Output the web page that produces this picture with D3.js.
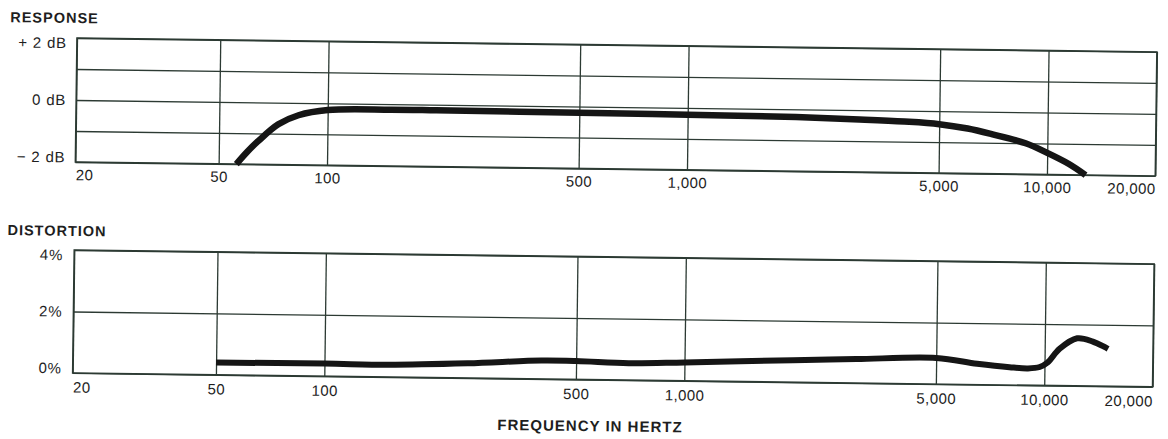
<!DOCTYPE html>
<html>
<head>
<meta charset="utf-8">
<script src="https://cdn.jsdelivr.net/npm/d3@7"></script>
<style>
  html, body { margin: 0; padding: 0; background: #ffffff; }
  svg { display: block; }
  text { font-family: "Liberation Sans", Arial, Helvetica, sans-serif; fill: #1e1e1e; }
</style>
</head>
<body>
<svg id="chart" width="1168" height="439"></svg>
<script>
// ---- data ----
const freqTicks = [20, 50, 100, 500, 1000, 5000, 10000, 20000];
const freqTickLabels = ["20", "50", "100", "500", "1,000", "5,000", "10,000", "20,000"];

const responseGrid = [2, 1, 0, -1, -2];
const responseTickLabels = {"2": "+ 2 dB", "0": "0 dB", "-2": "\u2212 2 dB"};

const distortionGrid = [4, 2, 0];
const distortionTickLabels = {"4": "4%", "2": "2%", "0": "0%"};

const responseFreq = [56, 60, 64, 73, 83, 100, 150, 200, 500, 1000, 2000, 3000, 4000, 5000, 6000, 7000, 8700, 10000, 11500, 12800];
const responseDb   = [-2.0, -1.6, -1.27, -0.7, -0.4, -0.22, -0.18, -0.18, -0.2, -0.22, -0.25, -0.3, -0.35, -0.42, -0.55, -0.72, -1.0, -1.3, -1.65, -2.0];

const distortionFreq = [50, 100, 150, 250, 400, 500, 700, 1000, 2000, 3000, 5000, 6500, 8000, 9000, 9700, 10200, 11000, 12300, 13600, 15000];
const distortionPct  = [0.40, 0.41, 0.40, 0.48, 0.60, 0.60, 0.55, 0.60, 0.72, 0.78, 0.85, 0.68, 0.58, 0.55, 0.60, 0.75, 1.2, 1.55, 1.45, 1.22];

// ---- layout ----
const svg = d3.select("#chart");
const root = svg.append("g").attr("transform", "rotate(0.74, 77, 38)");

const left = 77, width = 1080;
const gridColor = "#2c3a33";
const curveColor = "#151515";

const x = d3.scaleLog().domain([20, 20000]).range([left, left + width]);

function panel(top, height, yDomain, gridVals, labels, labelGap, titleText, titleY, xLabelPad) {
  const y = d3.scaleLinear().domain(yDomain).range([top + height, top]);
  const g = root.append("g");

  // vertical grid + frequency labels
  const xAxis = d3.axisBottom(x)
    .tickValues(freqTicks)
    .tickSize(-height)
    .tickPadding(xLabelPad)
    .tickFormat((d, i) => freqTickLabels[i]);
  const gx = g.append("g").attr("transform", `translate(0,${top + height})`).call(xAxis);
  gx.select(".domain").remove();
  gx.selectAll(".tick line").attr("stroke", gridColor).attr("stroke-width", 1.3);
  gx.selectAll(".tick text")
    .attr("font-size", 15)
    .attr("letter-spacing", 0.4)
    .attr("fill", "#1e1e1e")
    .attr("text-anchor", (d, i) => i === 0 ? "start" : (i === freqTicks.length - 1 ? "end" : "middle"));

  // horizontal grid + value labels
  const yAxis = d3.axisLeft(y)
    .tickValues(gridVals)
    .tickSize(-width)
    .tickPadding(labelGap)
    .tickFormat(d => labels[String(d)] || "");
  const gy = g.append("g").attr("transform", `translate(${left},0)`).call(yAxis);
  gy.select(".domain").remove();
  gy.selectAll(".tick line").attr("stroke", gridColor).attr("stroke-width", 1.3);
  gy.selectAll(".tick text")
    .attr("font-size", 15)
    .attr("letter-spacing", 0.8)
    .attr("fill", "#1e1e1e")
    .attr("dy", d => d === yDomain[1] ? "0.65em" : (d === yDomain[0] ? "0.0em" : "0.32em"));

  // outer frame
  g.append("rect")
    .attr("x", left).attr("y", top)
    .attr("width", width).attr("height", height)
    .attr("fill", "none").attr("stroke", gridColor).attr("stroke-width", 1.6);

  // title
  g.append("text")
    .attr("x", 10).attr("y", titleY)
    .attr("font-size", 14.5).attr("font-weight", "bold")
    .attr("letter-spacing", 1)
    .text(titleText);

  return {g, y};
}

const top1 = panel(38, 124, [-2, 2], responseGrid, responseTickLabels, 10, "RESPONSE", 23, 7.5);
const bot1 = panel(250, 123, [0, 4], distortionGrid, distortionTickLabels, 11, "DISTORTION", 236, 9);

const respLine = d3.line()
  .x(d => x(d[0]))
  .y(d => top1.y(d[1]))
  .curve(d3.curveCatmullRom.alpha(0.5));
top1.g.append("path")
  .datum(responseFreq.map((f, i) => [f, responseDb[i]]))
  .attr("d", respLine)
  .attr("fill", "none")
  .attr("stroke", curveColor)
  .attr("stroke-width", 6.5)
  .attr("stroke-linecap", "butt")
  .attr("stroke-linejoin", "round");

const distLine = d3.line()
  .x(d => x(d[0]))
  .y(d => bot1.y(d[1]))
  .curve(d3.curveCatmullRom.alpha(0.5));
bot1.g.append("path")
  .datum(distortionFreq.map((f, i) => [f, distortionPct[i]]))
  .attr("d", distLine)
  .attr("fill", "none")
  .attr("stroke", curveColor)
  .attr("stroke-width", 6)
  .attr("stroke-linecap", "butt")
  .attr("stroke-linejoin", "round");

// x-axis title
root.append("text")
  .attr("x", 595).attr("y", 424.5)
  .attr("text-anchor", "middle")
  .attr("font-size", 15).attr("font-weight", "bold")
  .attr("letter-spacing", 1)
  .text("FREQUENCY IN HERTZ");
</script>
</body>
</html>
